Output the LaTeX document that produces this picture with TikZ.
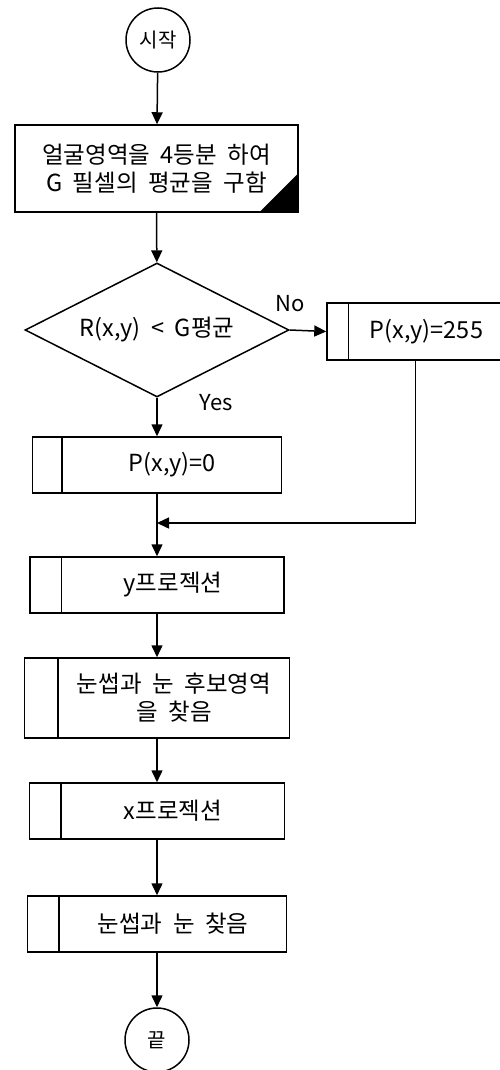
\documentclass[tikz,border=0pt]{standalone}
\usepackage{fontspec}
\setmainfont[WordSpace=2.0]{Noto Sans CJK KR}
\usetikzlibrary{shapes.geometric,arrows.meta}
\begin{document}
\begin{tikzpicture}[x=1pt,y=-1pt,line width=1.5pt,
  arr/.style={-{Triangle[length=12pt,width=11pt]}},
  term/.style={draw,circle,minimum size=64pt,inner sep=0pt,font=\fontsize{20}{24}\selectfont},
  proc/.style={draw,rectangle,inner sep=0pt,align=center,font=\fontsize{23.5}{28}\selectfont},
  dec/.style={draw,diamond,aspect=2,inner sep=0pt,minimum width=264pt,minimum height=134pt,font=\fontsize{23.5}{28}\selectfont},
  lbl/.style={inner sep=0pt,font=\fontsize{22}{26}\selectfont}]
\useasboundingbox (0,0) rectangle (500,1070);
% nodes
\node[term] (start) at (158,40) {시작};
\node[proc,minimum width=283pt,minimum height=87pt] (b1) at (156.5,168.5) {얼굴영역을 4등분 하여\\G 필셀의 평균을 구함};
\node[dec] (d) at (157,330) {R(x,y) < G평균};
\node[proc,minimum width=177pt,minimum height=57pt] (b255) at (415.5,331.5) {\hspace*{22pt}P(x,y)=255};
\node[proc,minimum width=249pt,minimum height=56pt] (b0) at (157,465) {\hspace*{30pt}P(x,y)=0};
\node[proc,minimum width=254pt,minimum height=56pt] (by) at (157,585) {\hspace*{32pt}y프로젝션};
\node[proc,minimum width=265pt,minimum height=80pt] (bc) at (157,698) {\hspace*{34pt}눈썹과 눈 후보영역\\\hspace*{34pt}을 찾음};
\node[proc,minimum width=255pt,minimum height=56pt] (bx) at (157,811) {\hspace*{32pt}x프로젝션};
\node[proc,minimum width=259pt,minimum height=56pt] (be) at (157,924) {\hspace*{32pt}눈썹과 눈 찾음};
\node[term] (end) at (157,1040) {끝};
\node[lbl] (no) at (290,304) {No};
\node[lbl] (yes) at (216,403) {Yes};
\coordinate (m) at (157,523);
% decorations of boxes
\fill (b1.south east) -- ([yshift=40pt]b1.south east) -- ([xshift=-40pt]b1.south east) -- cycle;
\draw ([xshift=22pt]b255.north west) -- ([xshift=22pt]b255.south west);
\draw ([xshift=30pt]b0.north west) -- ([xshift=30pt]b0.south west);
\draw ([xshift=32pt]by.north west) -- ([xshift=32pt]by.south west);
\draw ([xshift=34pt]bc.north west) -- ([xshift=34pt]bc.south west);
\draw ([xshift=32pt]bx.north west) -- ([xshift=32pt]bx.south west);
\draw ([xshift=32pt]be.north west) -- ([xshift=32pt]be.south west);
% connectors
\draw[arr] (start) -- (b1);
\draw[arr] (b1) -- (d);
\draw[arr] (d.east) -- (b255.west);
\draw[arr] (d.south) -- (b0.north);
\draw[arr] (b255.south) |- (m);
\draw[arr] (b0) -- (by);
\draw[arr] (by) -- (bc);
\draw[arr] (bc) -- (bx);
\draw[arr] (bx) -- (be);
\draw[arr] (be) -- (end);
\end{tikzpicture}
\end{document}
